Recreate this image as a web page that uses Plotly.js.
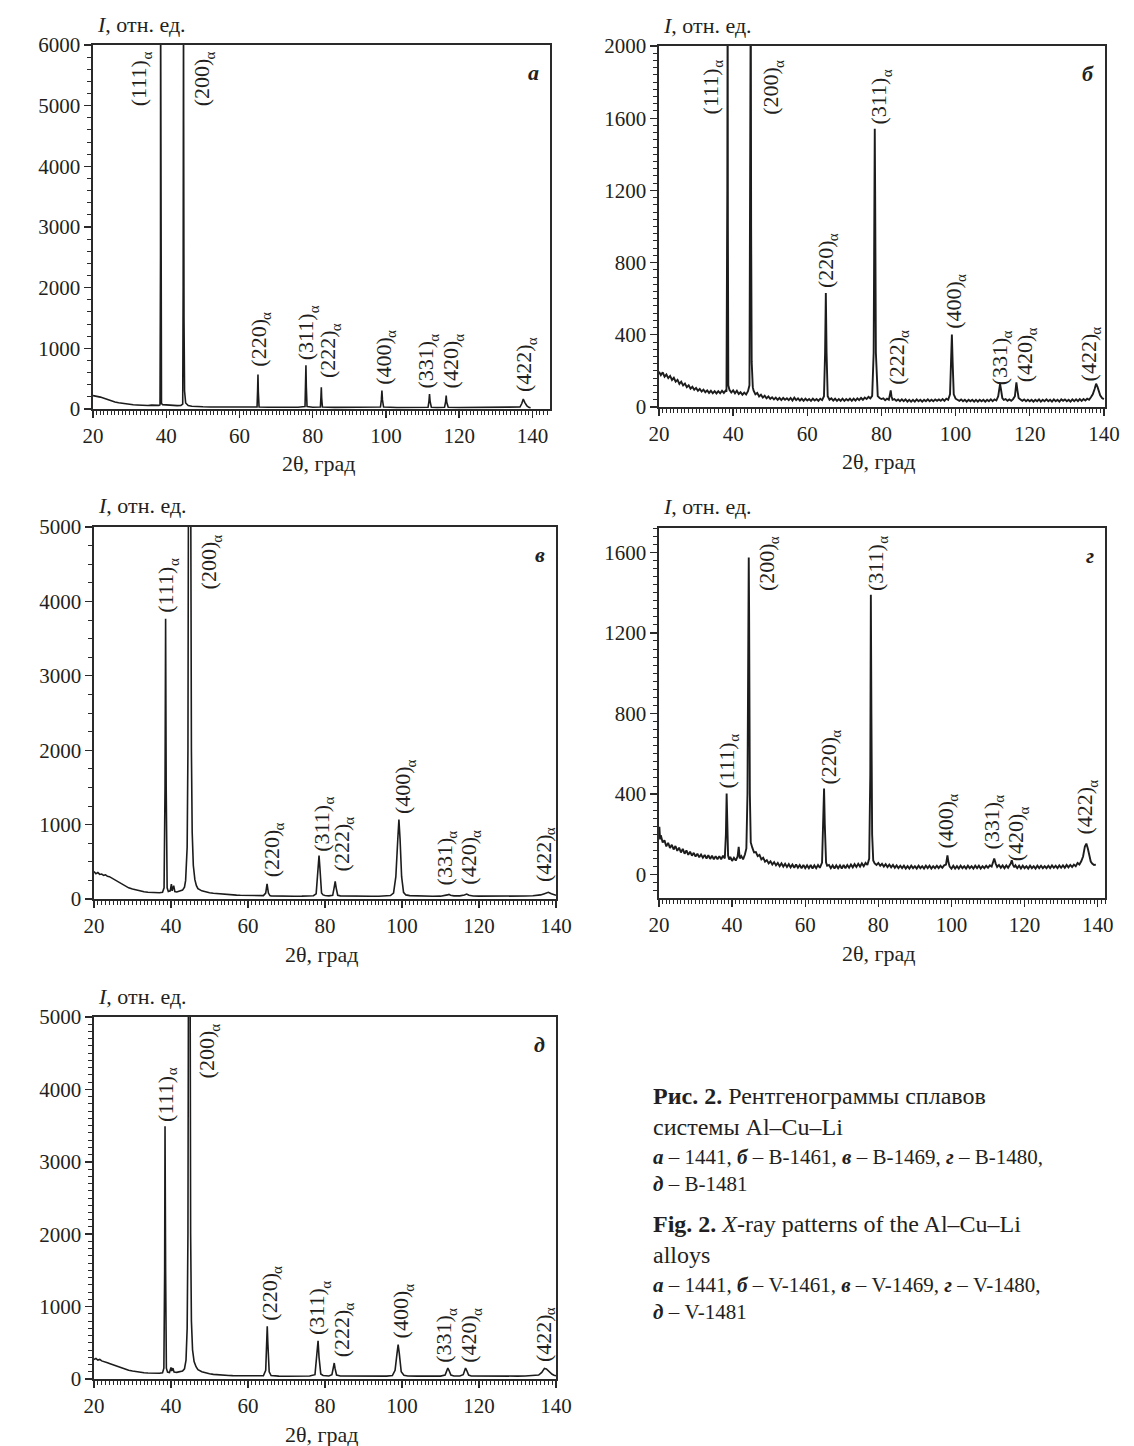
<!DOCTYPE html>
<html>
<head>
<meta charset="utf-8">
<script src="https://cdn.plot.ly/plotly-3.0.1.min.js"></script>
<style>html,body{margin:0;padding:0;background:#fff;}#chart{width:1134px;height:1446px;}</style>
</head>
<body>
<div id="chart"></div>
<script>
// ---------- DATA (2θ, intensity) ----------
const scanA = [[20,220],[21,212],[22,196],[23,176],[24,152],[25,132],[26,116],[27,102],[28,92],[29,84],[30,76],[31,71],[32,67],[33,63],[34,60],[35,58],[36,64],[37,58],[38,60],[38.3,70],[38.4,1200],[38.44,2526],[38.46,7000],[38.5,2400],[38.55,900],[38.7,90],[39,72],[40,66],[41,70],[42,58],[43,55],[44,60],[44.5,80],[44.62,2000],[44.68,4788],[44.72,7000],[44.76,4700],[44.85,1500],[45,300],[45.3,100],[45.6,72],[46,56],[47,46],[48,41],[50,37],[52,34],[55,31],[58,30],[62,29],[64.8,32],[64.95,300],[65.05,568],[65.15,280],[65.35,34],[68,28],[72,27],[76,30],[77.9,40],[78.05,400],[78.15,722],[78.25,380],[78.45,40],[80,30],[82.1,32],[82.25,200],[82.35,358],[82.45,180],[82.65,32],[86,26],[90,25],[95,26],[98.5,32],[98.75,150],[98.9,303],[99.05,150],[99.35,32],[103,25],[108,24],[111.5,28],[111.75,130],[111.9,248],[112.05,130],[112.4,28],[114,24],[116,28],[116.3,120],[116.45,220],[116.6,110],[117,28],[120,24],[125,23],[130,24],[134,26],[136.6,32],[137.1,90],[137.5,165],[137.9,110],[138.5,50],[139,28],[139.5,20]];

const scanB = [[20,195],[20.5,176],[21,192],[21.5,168],[22,180],[22.5,160],[23,172],[23.5,150],[24,162],[24.5,140],[25,150],[25.5,128],[26,140],[26.5,120],[27,130],[27.5,110],[28,120],[28.5,102],[29,112],[29.5,96],[30,106],[30.5,90],[31,100],[31.5,86],[32,96],[32.5,82],[33,92],[33.5,78],[34,90],[34.5,76],[35,88],[35.5,75],[36,88],[36.5,76],[37,90],[37.5,78],[38,92],[38.2,85],[38.42,1200],[38.47,2400],[38.52,2400],[38.58,1000],[38.7,120],[39,95],[39.5,80],[40,92],[40.5,76],[41,90],[41.5,72],[42,82],[42.5,68],[43,80],[43.5,70],[44,88],[44.4,120],[44.55,1500],[44.65,2400],[44.75,2400],[44.85,1000],[45,250],[45.3,110],[45.5,92],[46,70],[46.5,78],[47,58],[47.5,68],[48,52],[48.5,62],[49,48],[49.5,58],[50,45],[50.5,54],[51,42],[51.5,52],[52,40],[52.5,50],[53,38],[53.5,50],[54,40],[54.5,48],[55,38],[55.5,50],[56,36],[56.5,52],[57,38],[57.5,48],[58,36],[58.5,46],[59,34],[59.5,46],[60,36],[60.5,44],[61,34],[61.5,46],[62,36],[62.5,44],[63,34],[63.5,46],[64,38],[64.5,60],[64.8,300],[65,632],[65.2,300],[65.5,60],[66,40],[66.5,48],[67,36],[67.5,46],[68,34],[68.5,44],[69,34],[69.5,46],[70,34],[70.5,44],[71,36],[71.5,46],[72,34],[72.5,46],[73,36],[73.5,48],[74,38],[74.5,50],[75,40],[75.5,52],[76,44],[76.5,56],[77,48],[77.5,62],[77.9,300],[78.1,1200],[78.2,1541],[78.3,1200],[78.5,300],[78.8,70],[79,60],[79.5,50],[80,44],[80.5,48],[81,38],[81.5,46],[82,40],[82.3,70],[82.5,92],[82.7,60],[83,40],[83.5,44],[84,34],[84.5,42],[85,32],[85.5,42],[86,32],[86.5,42],[87,30],[87.5,40],[88,30],[88.5,40],[89,30],[89.5,42],[90,32],[90.5,40],[91,30],[91.5,40],[92,32],[92.5,42],[93,32],[93.5,40],[94,32],[94.5,42],[95,34],[95.5,42],[96,34],[96.5,44],[97,34],[97.5,46],[98,40],[98.5,70],[98.8,250],[99,401],[99.2,250],[99.5,70],[100,46],[100.5,40],[101,34],[101.5,42],[102,32],[102.5,40],[103,30],[103.5,40],[104,32],[104.5,40],[105,30],[105.5,40],[106,30],[106.5,40],[107,32],[107.5,40],[108,30],[108.5,40],[109,32],[109.5,42],[110,32],[110.5,42],[111,36],[111.5,60],[111.8,110],[112,128],[112.3,90],[112.6,50],[113,40],[113.5,44],[114,34],[114.5,42],[115,34],[115.5,44],[116,60],[116.3,120],[116.4,137],[116.7,90],[117,50],[117.5,42],[118,34],[118.5,42],[119,32],[119.5,40],[120,32],[120.5,40],[121,30],[121.5,40],[122,32],[122.5,42],[123,30],[123.5,40],[124,32],[124.5,42],[125,32],[125.5,40],[126,30],[126.5,42],[127,32],[127.5,40],[128,30],[128.5,42],[129,34],[129.5,42],[130,32],[130.5,40],[131,30],[131.5,42],[132,32],[132.5,42],[133,32],[133.5,44],[134,34],[134.5,44],[135,36],[135.5,46],[136,40],[136.5,54],[137,70],[137.5,100],[137.9,129],[138.3,110],[138.7,80],[139,65],[139.5,50],[140,44]];

const scanV = [[20,370],[20.5,340],[21,355],[21.5,330],[22,335],[22.5,318],[23,325],[23.5,305],[24,300],[24.5,285],[25,270],[26,240],[27,205],[28,175],[29,150],[30,135],[31,120],[32,108],[33,98],[34,90],[35,85],[36,82],[37,84],[37.8,90],[38.2,150],[38.45,1500],[38.6,3767],[38.75,1500],[39,150],[39.3,100],[39.8,110],[40.1,200],[40.3,110],[40.7,180],[41,100],[41.5,95],[42,100],[42.5,105],[43,120],[43.5,160],[43.8,250],[44.2,700],[44.4,2000],[44.55,6000],[45.1,6000],[45.3,2000],[45.5,900],[45.8,450],[46.2,260],[46.6,180],[47,140],[48,110],[49,95],[50,85],[51,78],[52,72],[53,66],[54,62],[55,58],[56,55],[57,52],[58,50],[59,48],[60,46],[61,45],[62,44],[63,44],[64,45],[64.6,80],[64.95,202],[65.3,80],[65.7,45],[66,42],[67,40],[68,40],[69,38],[70,38],[72,37],[74,38],[76,40],[77,44],[77.7,70],[78.2,400],[78.45,583],[78.7,400],[79.1,80],[79.5,55],[80,46],[81,42],[82,50],[82.4,160],[82.65,238],[82.9,150],[83.3,50],[84,42],[85,40],[86,38],[88,36],[90,36],[92,36],[94,37],[96,40],[97,46],[97.8,80],[98.4,300],[98.9,800],[99.2,1067],[99.5,800],[99.9,300],[100.4,90],[101,55],[102,45],[104,40],[106,38],[108,37],[110,38],[111,42],[111.8,55],[112.2,62],[112.6,50],[113.5,42],[115,42],[116.2,55],[116.8,67],[117.4,50],[118.5,40],[120,38],[122,37],[124,36],[126,38],[128,37],[130,38],[132,40],[134,44],[136,55],[137,72],[138,90],[138.8,70],[139.5,55],[140,50]];

const scanG = [[20,200],[20.1,237],[20.3,175],[20.5,195],[21,160],[21.5,170],[22,140],[22.5,158],[23,132],[23.5,148],[24,125],[24.5,142],[25,118],[25.5,134],[26,110],[26.5,128],[27,104],[27.5,120],[28,98],[28.5,114],[29,94],[29.5,108],[30,90],[30.5,104],[31,86],[31.5,100],[32,84],[32.5,98],[33,80],[33.5,96],[34,78],[34.5,94],[35,76],[35.5,92],[36,76],[36.5,92],[37,76],[37.5,94],[38,80],[38.3,200],[38.5,403],[38.7,200],[38.9,95],[39.2,75],[39.5,88],[40,68],[40.5,84],[41,70],[41.5,90],[41.8,138],[42.1,80],[42.5,92],[43,76],[43.5,100],[43.9,130],[44.2,400],[44.45,1300],[44.55,1575],[44.65,1300],[44.85,400],[45.1,160],[45.5,135],[46,110],[46.5,112],[47,92],[47.5,98],[48,76],[48.5,84],[49,64],[49.5,72],[50,56],[50.5,66],[51,50],[51.5,62],[52,46],[52.5,58],[53,42],[53.5,56],[54,40],[54.5,54],[55,38],[55.5,52],[56,36],[56.5,50],[57,34],[57.5,50],[58,34],[58.5,48],[59,32],[59.5,48],[60,32],[60.5,46],[61,32],[61.5,48],[62,30],[62.5,46],[63,32],[63.5,48],[64,34],[64.6,60],[64.95,250],[65.15,428],[65.35,250],[65.7,60],[66,44],[66.5,48],[67,32],[67.5,46],[68,30],[68.5,46],[69,32],[69.5,46],[70,30],[70.5,48],[71,32],[71.5,48],[72,34],[72.5,50],[73,36],[73.5,52],[74,38],[74.5,54],[75,40],[75.5,56],[76,42],[76.5,58],[77,48],[77.5,80],[77.8,500],[77.95,1390],[78.1,800],[78.3,200],[78.6,70],[79,56],[79.5,48],[80,58],[80.5,44],[81,54],[81.5,40],[82,52],[82.5,38],[83,50],[83.5,36],[84,48],[84.5,34],[85,46],[85.5,32],[86,44],[86.5,32],[87,44],[87.5,30],[88,42],[88.5,30],[89,44],[89.5,32],[90,42],[90.5,30],[91,44],[91.5,32],[92,42],[92.5,30],[93,44],[93.5,32],[94,44],[94.5,30],[95,42],[95.5,32],[96,44],[96.5,32],[97,44],[97.5,34],[98,46],[98.5,50],[98.9,96],[99.2,60],[99.5,40],[100,30],[100.5,44],[101,30],[101.5,42],[102,30],[102.5,44],[103,32],[103.5,42],[104,30],[104.5,44],[105,32],[105.5,42],[106,30],[106.5,44],[107,32],[107.5,44],[108,30],[108.5,42],[109,32],[109.5,44],[110,34],[110.5,46],[111,40],[111.3,55],[111.7,80],[112.1,55],[112.5,38],[113,48],[113.5,34],[114,46],[114.5,32],[115,46],[115.5,34],[116.2,55],[116.5,71],[116.8,50],[117.2,36],[117.5,46],[118,32],[118.5,44],[119,30],[119.5,44],[120,32],[120.5,42],[121,30],[121.5,44],[122,32],[122.5,42],[123,30],[123.5,44],[124,32],[124.5,44],[125,32],[125.5,42],[126,32],[126.5,44],[127,32],[127.5,46],[128,34],[128.5,44],[129,32],[129.5,46],[130,34],[130.5,46],[131,34],[131.5,48],[132,36],[132.5,48],[133,38],[133.5,50],[134,42],[134.5,58],[135,50],[135.5,66],[136,90],[136.5,140],[136.9,154],[137.3,130],[137.7,90],[138.1,65],[138.5,55],[139,48],[139.5,50]];

const scanD = [[20,270],[20.5,285],[21,262],[21.5,270],[22,250],[22.5,245],[23,235],[23.5,225],[24,215],[25,195],[26,175],[27,155],[28,138],[29,122],[30,110],[31,100],[32,93],[33,87],[34,82],[35,80],[36,78],[37,80],[37.8,85],[38.15,150],[38.35,1500],[38.45,3490],[38.6,1500],[38.8,150],[39.1,95],[39.6,90],[40,160],[40.2,110],[40.5,150],[40.8,95],[41.5,92],[42,95],[42.5,100],[43,110],[43.5,140],[43.9,260],[44.2,700],[44.4,2000],[44.55,6000],[44.95,6000],[45.1,2000],[45.3,800],[45.6,400],[46,240],[46.5,170],[47,130],[48,100],[49,82],[50,72],[51,64],[52,58],[53,54],[54,51],[55,49],[56,47],[58,45],[60,44],[62,42],[64,44],[64.6,120],[64.9,500],[65,727],[65.15,500],[65.5,100],[66,48],[67,42],[68,40],[70,38],[72,38],[74,40],[76,42],[77.4,60],[77.9,300],[78.2,529],[78.45,300],[78.9,70],[79.5,48],[80,44],[81,42],[81.8,60],[82.2,180],[82.4,221],[82.6,150],[83,55],[84,42],[86,40],[88,38],[90,38],[92,38],[94,38],[96,40],[97.5,48],[98.2,120],[98.7,350],[99,474],[99.3,350],[99.8,100],[100.5,52],[101.5,42],[104,40],[106,38],[108,38],[110,40],[111.2,55],[111.7,130],[111.9,152],[112.2,120],[112.7,55],[113.5,42],[115,42],[115.9,60],[116.3,135],[116.5,152],[116.8,120],[117.3,55],[118,42],[120,40],[122,40],[125,40],[128,40],[130,40],[132,42],[134,44],[135.5,55],[136.3,90],[137,147],[137.5,140],[138.2,100],[139,65],[139.5,52],[140,45]];

// reflection names and label anchor points (2θ of label centre, intensity at label foot)
const hkl = ['(111)','(200)','(220)','(311)','(222)','(400)','(331)','(420)','(422)'];
const phase = 'α';
const labXA = [33.0, 50.2, 65.8, 78.6, 84.6, 99.9, 111.4, 118.2, 138.3];
const labYA = [4950, 4950, 660, 770, 470, 360, 300, 300, 250];
const labXB = [34.3, 50.6, 65.4, 79.8, 84.6, 100.0, 112.3, 119.1, 136.4];
const labYB = [1610, 1610, 650, 1555, 110, 420, 110, 128, 128];
const labXV = [39.2, 50.3, 66.6, 79.4, 84.8, 100.7, 111.5, 117.8, 137.1];
const labYV = [3820, 4130, 270, 610, 350, 1110, 160, 160, 200];
const labXG = [39.0, 49.9, 66.9, 79.6, null, 98.8, 111.5, 118.3, 137.0];
const labYG = [420, 1400, 440, 1400, null, 120, 112, 58, 188];
const labXD = [38.9, 49.8, 66.0, 78.5, 84.8, 100.2, 111.3, 117.8, 137.1];
const labYD = [3520, 4120, 780, 575, 280, 530, 190, 190, 205];
const panelLetters = ['а', 'б', 'в', 'г', 'д'];
const yTitle = '<i>I</i>, отн. ед.';
const xTitle = '2θ, град';

// ---------- LAYOUT ----------
const W = 1134, H = 1446;
const FONT = 'Liberation Serif, Times New Roman, serif';
const INK = '#231f20';
const LAB = 22;                 // peak-label font size
const SUB = 15;                 // subscript font size
const px = v => v / W;
const py = v => 1 - v / H;

const panels = [
  {scan: scanA, lx: labXA, ly: labYA, xd: [93, 550],  yd: [45, 409],  xr: [20, 144.8], yr: [0, 6000], yd0: 1000, ym: 200, lw: 1.6},
  {scan: scanB, lx: labXB, ly: labYB, xd: [659, 1105], yd: [46, 407],  xr: [20, 140.3], yr: [0, 2000], yd0: 400, ym: 40, lw: 1.9},
  {scan: scanV, lx: labXV, ly: labYV, xd: [94, 556],  yd: [527, 899], xr: [20, 140], yr: [0, 5000], yd0: 1000, ym: 250, lw: 1.6},
  {scan: scanG, lx: labXG, ly: labYG, xd: [659, 1105], yd: [528, 898], xr: [20, 142], yr: [-116, 1721], yd0: 400, ym: 40, lw: 1.9},
  {scan: scanD, lx: labXD, ly: labYD, xd: [94, 556],  yd: [1017, 1379], xr: [20, 140], yr: [0, 5000], yd0: 1000, ym: 100, lw: 1.6}
];

const traces = [];
const layout = {
  width: W, height: H,
  margin: {l: 0, r: 0, t: 0, b: 0},
  paper_bgcolor: '#fff', plot_bgcolor: '#fff',
  showlegend: false,
  font: {family: FONT, size: 21, color: INK},
  annotations: []
};

panels.forEach((p, i) => {
  const n = i + 1;
  const xa = n === 1 ? 'xaxis' : 'xaxis' + n;
  const ya = n === 1 ? 'yaxis' : 'yaxis' + n;
  const xr = n === 1 ? 'x' : 'x' + n;
  const yr = n === 1 ? 'y' : 'y' + n;
  traces.push({
    type: 'scatter', mode: 'lines',
    x: p.scan.map(d => d[0]), y: p.scan.map(d => d[1]),
    xaxis: xr, yaxis: yr,
    line: {color: '#1c1c1c', width: p.lw},
    hoverinfo: 'skip'
  });
  const common = {
    showgrid: false, zeroline: false, showline: true, mirror: true,
    linecolor: '#2a2a2a', linewidth: 1.6,
    ticks: 'outside', tickcolor: '#2a2a2a', tickwidth: 1.4, ticklen: 7,
    tickfont: {family: FONT, size: 21, color: INK}, fixedrange: true
  };
  layout[xa] = Object.assign({}, common, {
    domain: [px(p.xd[0]), px(p.xd[1])], range: p.xr, anchor: yr,
    tickmode: 'linear', tick0: 20, dtick: 20,
    minor: {dtick: 1, ticklen: 4, ticks: 'outside', tickcolor: '#2a2a2a', tickwidth: 1}
  });
  layout[ya] = Object.assign({}, common, {
    domain: [py(p.yd[1]), py(p.yd[0])], range: p.yr, anchor: xr,
    tickmode: 'linear', tick0: 0, dtick: p.yd0,
    minor: {dtick: p.ym, ticklen: 4, ticks: 'outside', tickcolor: '#2a2a2a', tickwidth: 1}
  });
  // peak labels: index text + subscript phase letter, both rotated
  hkl.forEach((h, k) => {
    if (p.lx[k] === null) return;
    layout.annotations.push({
      xref: xr, yref: yr, x: p.lx[k], y: p.ly[k], xshift: -2,
      text: h, textangle: -90,
      xanchor: 'center', yanchor: 'bottom', showarrow: false,
      font: {family: FONT, size: LAB, color: INK}
    });
    layout.annotations.push({
      xref: xr, yref: yr, x: p.lx[k], y: p.ly[k], xshift: 6, yshift: 2.17 * LAB - 1,
      text: phase, textangle: -90,
      xanchor: 'center', yanchor: 'bottom', showarrow: false,
      font: {family: FONT, size: SUB, color: INK}
    });
  });
  // panel letter
  layout.annotations.push({
    xref: xr + ' domain', yref: yr + ' domain', x: 0.98, y: 0.965,
    xanchor: 'right', yanchor: 'top', showarrow: false,
    text: '<b><i>' + panelLetters[i] + '</i></b>',
    font: {family: FONT, size: 22, color: INK}
  });
  // y title above axis
  layout.annotations.push({
    xref: 'paper', yref: 'paper', x: px(p.xd[0] + 2), y: py(p.yd[0] - 21),
    xanchor: 'left', yanchor: 'middle', showarrow: false,
    text: yTitle, font: {family: FONT, size: 22, color: INK}
  });
  // x title below axis
  layout.annotations.push({
    xref: 'paper', yref: 'paper', x: px((p.xd[0] + p.xd[1]) / 2 - 3), y: py(p.yd[1] + 55),
    xanchor: 'center', yanchor: 'middle', showarrow: false,
    text: xTitle, font: {family: FONT, size: 22, color: INK}
  });
});

// ---------- CAPTION (each block is one wrapped text) ----------
const capBlocks = [
  ['<b>Рис. 2.</b> Рентгенограммы сплавов<br>системы Al–Cu–Li', 1081, 24],
  ['<b><i>а</i></b> – 1441, <b><i>б</i></b> – В-1461, <b><i>в</i></b> – В-1469, <b><i>г</i></b> – В-1480,<br><b><i>д</i></b> – В-1481', 1143, 21],
  ['<b>Fig. 2.</b> <i>X</i>-ray patterns of the Al–Cu–Li<br>alloys', 1209, 24],
  ['<b><i>а</i></b> – 1441, <b><i>б</i></b> – V-1461, <b><i>в</i></b> – V-1469, <b><i>г</i></b> – V-1480,<br><b><i>д</i></b> – V-1481', 1271, 21]
];
capBlocks.forEach(c => {
  layout.annotations.push({
    xref: 'paper', yref: 'paper', x: px(651), y: py(c[1]),
    xanchor: 'left', yanchor: 'top', showarrow: false, align: 'left',
    text: c[0], font: {family: FONT, size: c[2], color: INK}
  });
});

Plotly.newPlot('chart', traces, layout, {displayModeBar: false, staticPlot: true});
</script>
</body>
</html>
